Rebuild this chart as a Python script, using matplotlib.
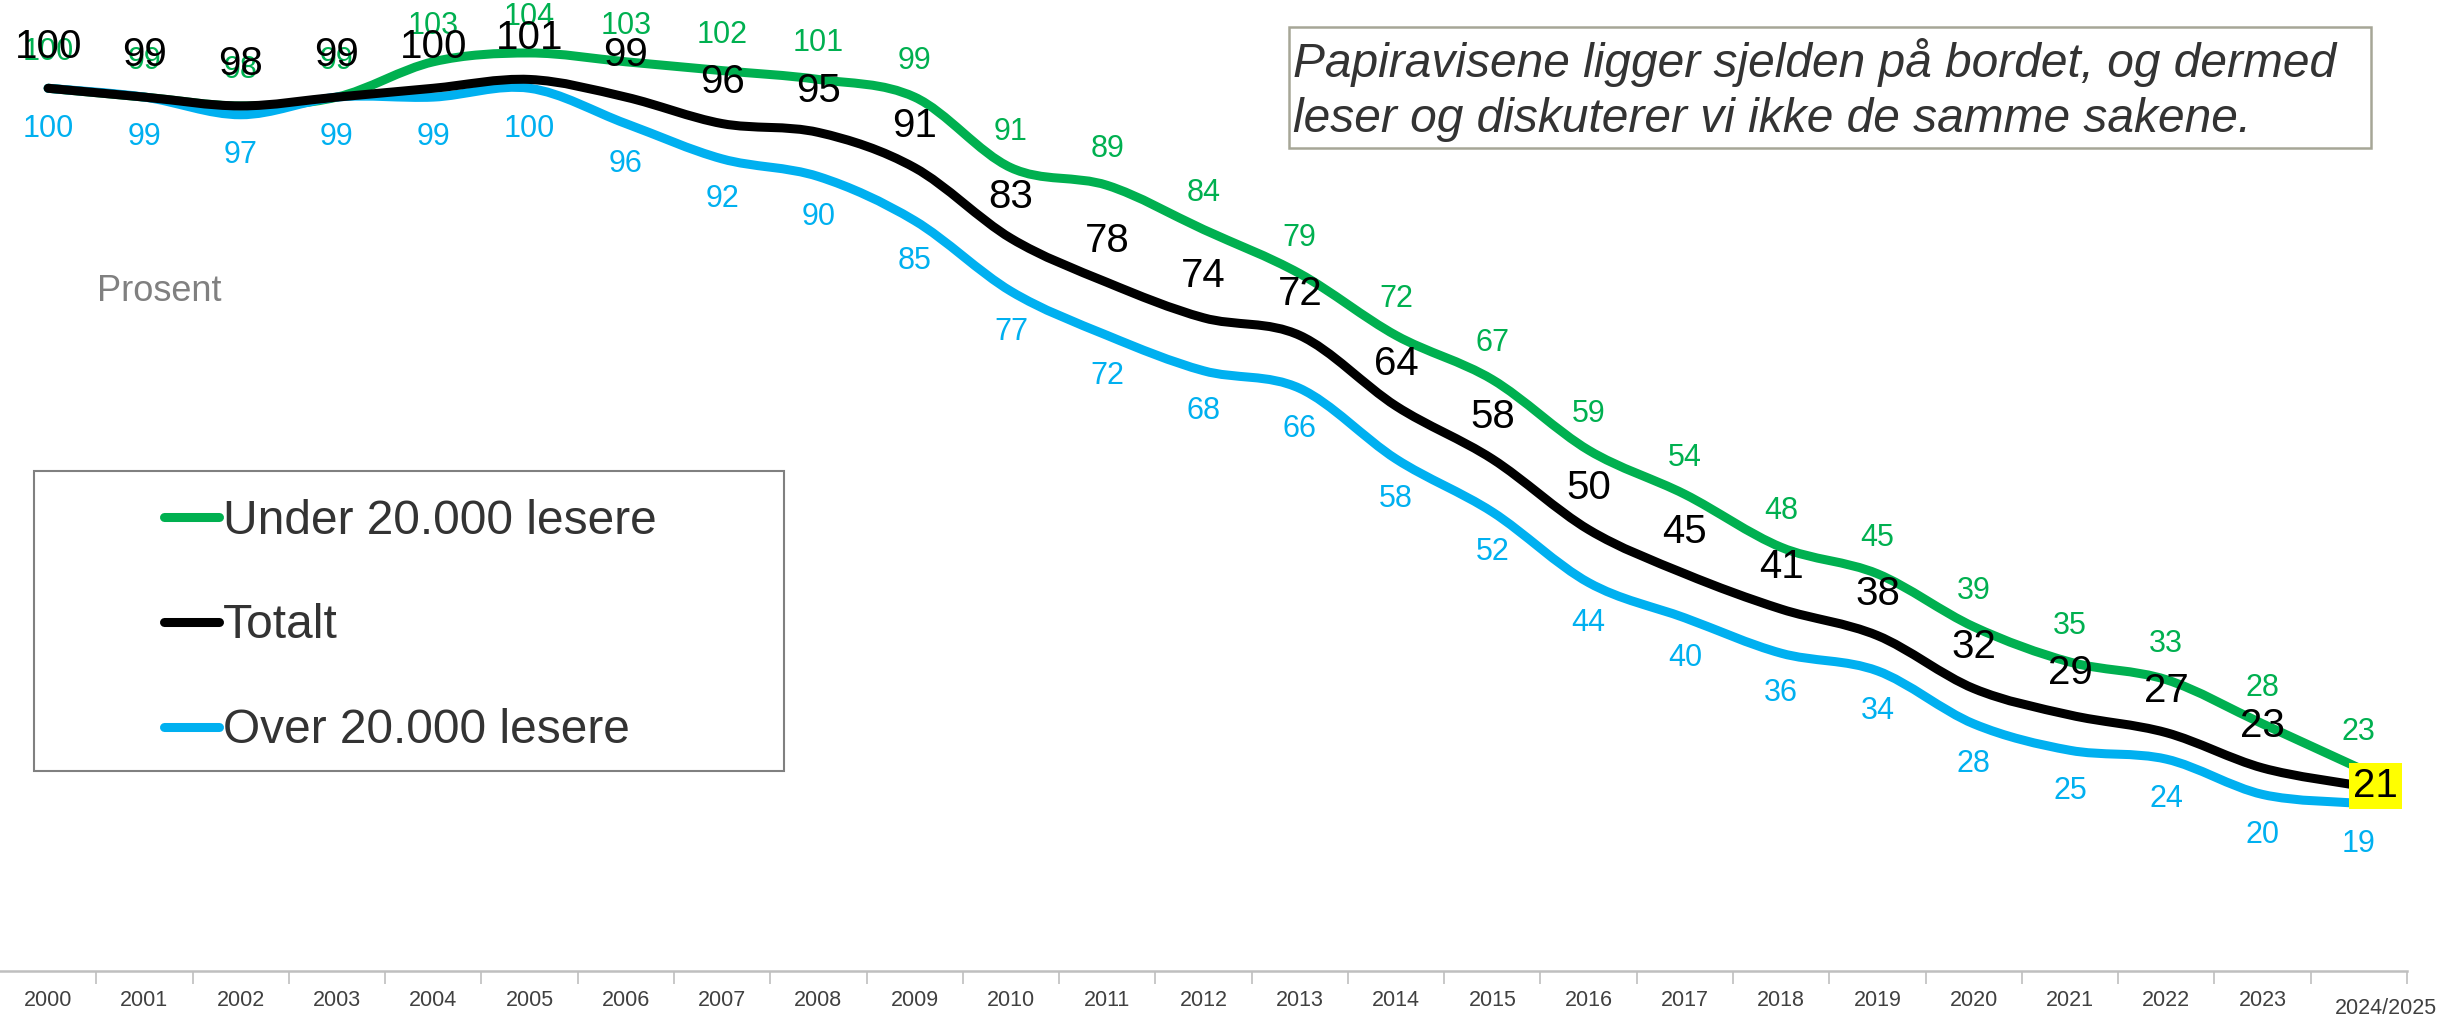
import matplotlib.pyplot as plt
from matplotlib.path import Path
from matplotlib.patches import PathPatch, Rectangle
from matplotlib.lines import Line2D
from matplotlib.transforms import ScaledTranslation

plt.rcParams['font.family'] = ['Liberation Sans', 'DejaVu Sans']

years = [str(y) for y in range(2000, 2024)] + ["2024/2025"]
under = [100, 99, 98, 99, 103, 104, 103, 102, 101, 99, 91, 89, 84, 79, 72,
         67, 59, 54, 48, 45, 39, 35, 33, 28, 23]
total = [100, 99, 98, 99, 100, 101, 99, 96, 95, 91, 83, 78, 74, 72, 64,
         58, 50, 45, 41, 38, 32, 29, 27, 23, 21]
over = [100, 99, 97, 99, 99, 100, 96, 92, 90, 85, 77, 72, 68, 66, 58,
        52, 44, 40, 36, 34, 28, 25, 24, 20, 19]

GREEN = "#00B050"
BLACK = "#000000"
BLUE = "#00B0F0"

W, H = 2448, 1016


def smooth_path(xs, ys):
    # excel-like smoothed line: cubic bezier segments through each point
    n = len(xs)
    verts = [(xs[0], ys[0])]
    codes = [Path.MOVETO]
    for i in range(n - 1):
        x0, y0 = xs[max(i - 1, 0)], ys[max(i - 1, 0)]
        x1, y1 = xs[i], ys[i]
        x2, y2 = xs[i + 1], ys[i + 1]
        x3, y3 = xs[min(i + 2, n - 1)], ys[min(i + 2, n - 1)]
        c1 = (x1 + (x2 - x0) / 6, y1 + (y2 - y0) / 6)
        c2 = (x2 - (x3 - x1) / 6, y2 - (y3 - y1) / 6)
        verts += [c1, c2, (x2, y2)]
        codes += [Path.CURVE4] * 3
    return Path(verts, codes)


fig = plt.figure(figsize=(24.48, 10.16), dpi=100)
ax = fig.add_axes([0, 45 / H, 2407 / W, 971 / H])

x = list(range(len(years)))
for vals, col in [(under, GREEN), (over, BLUE), (total, BLACK)]:
    ax.add_patch(PathPatch(smooth_path(x, vals), facecolor="none",
                           edgecolor=col, lw=6.5, capstyle="round",
                           joinstyle="round"))

for i, v in enumerate(under):
    ax.annotate(str(v), (i, v), xytext=(0, 26), textcoords="offset points",
                ha="center", va="center", fontsize=22, color=GREEN)
for i, v in enumerate(over):
    ax.annotate(str(v), (i, v), xytext=(0, -29), textcoords="offset points",
                ha="center", va="center", fontsize=22, color=BLUE)
for i, v in enumerate(total[:-1]):
    ax.annotate(str(v), (i, v), xytext=(0, 30), textcoords="offset points",
                ha="center", va="center", fontsize=29, color=BLACK)
ax.annotate(str(total[-1]), (x[-1], total[-1]), xytext=(-4, 0),
            textcoords="offset points", ha="left", va="center", fontsize=29,
            color=BLACK,
            bbox=dict(boxstyle="square,pad=0.1", fc="#FFFF00", ec="none"))

ax.set_xlim(-0.5, len(years) - 0.5)
ax.set_ylim(0, 110)
for s in ["left", "right", "top"]:
    ax.spines[s].set_visible(False)
ax.spines["bottom"].set_color("#bfbfbf")
ax.spines["bottom"].set_linewidth(1.8)
ax.set_yticks([])

ax.set_xticks([i + 0.5 for i in x])
ax.set_xticklabels([])
ax.tick_params(axis="x", which="major", length=9, width=1.2, color="#bfbfbf")
ax.set_xticks(x, minor=True)
ax.set_xticklabels(years, minor=True, fontsize=15.5, color="#404040")
ax.tick_params(axis="x", which="minor", length=0, pad=14)
last = ax.xaxis.get_minorticklabels()[-1]
last.set_transform(last.get_transform() +
                   ScaledTranslation(0.27, -0.08, fig.dpi_scale_trans))

# legend frame drawn separately so its size matches the reference
fig.patches.append(Rectangle((34 / W, 1 - 771 / H), 750 / W, 300 / H,
                             transform=fig.transFigure, fc="white",
                             ec="#808080", lw=1.5))
handles = [Line2D([], [], color=GREEN, lw=6.5, solid_capstyle="round"),
           Line2D([], [], color=BLACK, lw=6.5, solid_capstyle="round"),
           Line2D([], [], color=BLUE, lw=6.5, solid_capstyle="round")]
leg = fig.legend(handles, ["Under 20.000 lesere", "Totalt", "Over 20.000 lesere"],
                 loc="center left", bbox_to_anchor=(164 / W, 1 - 626 / H),
                 fontsize=34.5, handlelength=1.15, handletextpad=0.08,
                 labelspacing=1.25, borderpad=0, frameon=False,
                 labelcolor="#333333", borderaxespad=0)

fig.text(97 / W, 1 - 292 / H, "Prosent", fontsize=26, color="#808080",
         ha="left", va="center")

fig.patches.append(Rectangle((1289 / W, 1 - 148 / H), 1082 / W, 121 / H,
                             transform=fig.transFigure, fc="white",
                             ec="#a6a697", lw=1.8))
fig.text(1293 / W, 1 - 90 / H,
         "Papiravisene ligger sjelden på bordet, og dermed\n"
         "leser og diskuterer vi ikke de samme sakene.",
         fontsize=34.5, style="italic", color="#333333", ha="left", va="center",
         linespacing=1.28)

fig.savefig("out.png", dpi=100)
